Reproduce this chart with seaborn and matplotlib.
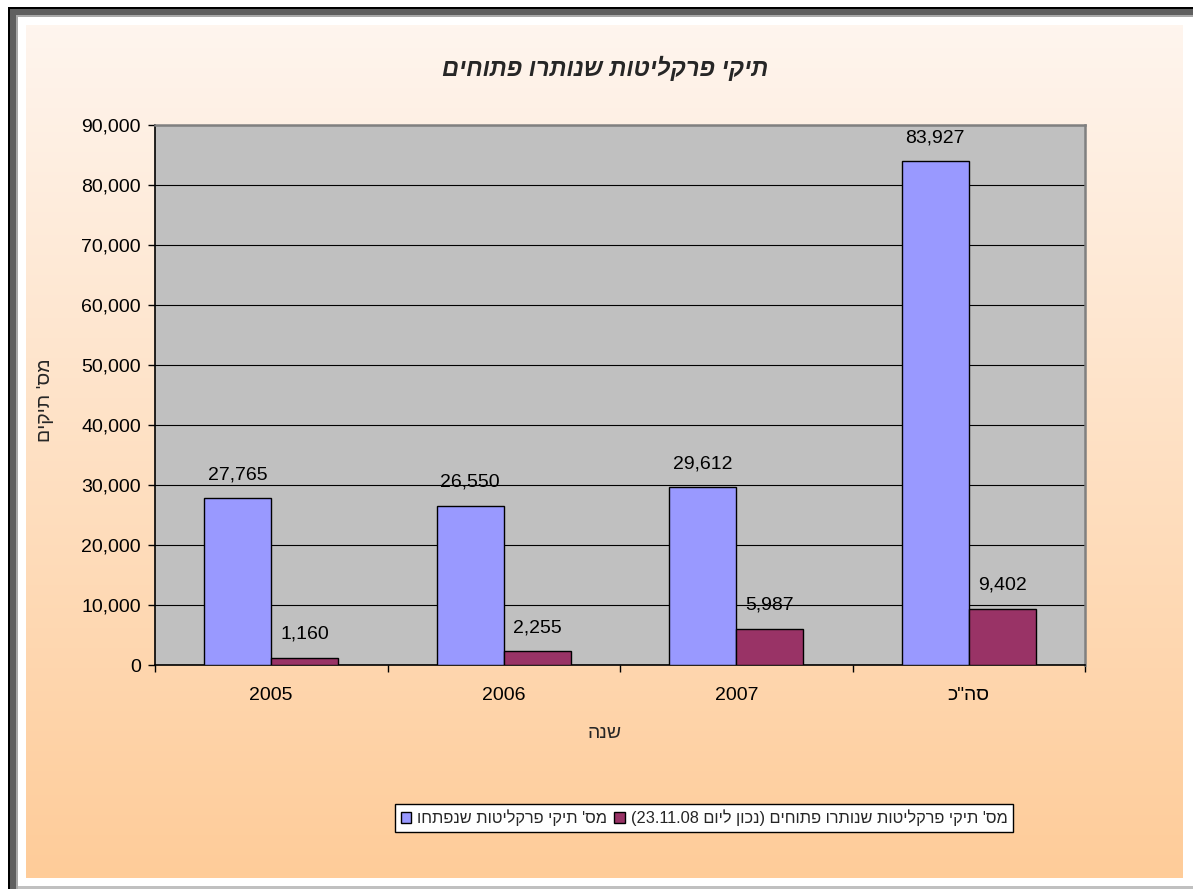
import re
import numpy as np
import pandas as pd
import matplotlib
matplotlib.use("Agg")
import matplotlib.pyplot as plt
from matplotlib.patches import Rectangle, Patch
from matplotlib.ticker import FuncFormatter, FixedLocator, NullFormatter
import seaborn as sns

# ---- data ----
categories = ['2005', '2006', '2007', 'סה"כ']
opened = [27765, 26550, 29612, 83927]
remaining = [1160, 2255, 5987, 9402]
series_names = ["מס' תיקי פרקליטות שנפתחו",
                "מס' תיקי פרקליטות שנותרו פתוחים (נכון ליום 23.11.08)"]
title_text = "תיקי פרקליטות שנותרו פתוחים"
xlabel_text = "שנה"
ylabel_text = "מס' תיקים"
colors = ["#9999FF", "#993366"]


def rtl(s):
    """Convert logical-order Hebrew text to visual order for matplotlib."""
    r = s[::-1]
    r = re.sub(r'[0-9][0-9.,]*[0-9]', lambda m: m.group(0)[::-1], r)
    return r.translate(str.maketrans('()', ')('))


sns.set_theme(style="white")
plt.rcParams['font.family'] = ['Liberation Sans', 'DejaVu Sans']

W, H = 1193, 889
fig = plt.figure(figsize=(W / 100, H / 100), dpi=100)
fig.patch.set_facecolor("white")


def fx(x):
    return x / W


def fy(y):
    return 1 - y / H


# frame strips
fig.add_artist(Rectangle((fx(8), 0), fx(10) - fx(8), fy(7), transform=fig.transFigure,
                         facecolor="black", edgecolor="none", zorder=-20))
fig.add_artist(Rectangle((fx(10), 0), fx(16) - fx(10), fy(9), transform=fig.transFigure,
                         facecolor="#5f5f5f", edgecolor="none", zorder=-19))
fig.add_artist(Rectangle((fx(16), 0), fx(18) - fx(16), fy(15), transform=fig.transFigure,
                         facecolor="#a8a8a8", edgecolor="none", zorder=-19))
fig.add_artist(Rectangle((fx(8), fy(9)), 1 - fx(8), fy(7) - fy(9), transform=fig.transFigure,
                         facecolor="black", edgecolor="none", zorder=-20))
fig.add_artist(Rectangle((fx(10), fy(15)), 1 - fx(10), fy(9) - fy(15), transform=fig.transFigure,
                         facecolor="#5f5f5f", edgecolor="none", zorder=-19))
fig.add_artist(Rectangle((fx(16), fy(17)), 1 - fx(16), fy(15) - fy(17), transform=fig.transFigure,
                         facecolor="#a8a8a8", edgecolor="none", zorder=-19))
fig.add_artist(Rectangle((fx(18), 0), 1 - fx(18), fy(886), transform=fig.transFigure,
                         facecolor="#c0c0c0", edgecolor="none", zorder=-19))

# gradient background of chart area
bg = fig.add_axes([fx(26), fy(878), fx(1183) - fx(26), fy(25) - fy(878)], zorder=-5)
top = np.array([0xFE, 0xF5, 0xEE]) / 255
bot = np.array([0xFF, 0xCC, 0x99]) / 255
t = np.linspace(0, 1, 256)[:, None]
grad = (top[None, :] * (1 - t) + bot[None, :] * t)[:, None, :]
bg.imshow(grad, aspect="auto", extent=[0, 1, 0, 1])
bg.axis("off")

# main axes
ax = fig.add_axes([fx(155), fy(665), fx(1085) - fx(155), fy(125) - fy(665)], zorder=1)
ax.set_facecolor("#C0C0C0")

cat_vis = [rtl(c) for c in categories]
ser_vis = [rtl(s) for s in series_names]
df = pd.DataFrame({
    "cat": cat_vis * 2,
    "series": [ser_vis[0]] * len(categories) + [ser_vis[1]] * len(categories),
    "val": opened + remaining,
})

sns.barplot(data=df, x="cat", y="val", hue="series", order=cat_vis, hue_order=ser_vis,
            palette=colors, width=0.576, gap=0, edgecolor="black", linewidth=1,
            saturation=1, legend=False, ax=ax, zorder=3)

for cont in ax.containers:
    ax.bar_label(cont, fmt="{:,.0f}", padding=11, fontsize=14, color="black")

ax.set_ylim(0, 90000)
ax.set_xlim(-0.5, len(categories) - 0.5)
ax.yaxis.set_major_locator(FixedLocator(np.arange(0, 90001, 10000)))
ax.yaxis.set_major_formatter(FuncFormatter(lambda v, p: f"{int(v):,}"))
ax.grid(axis="y", color="black", linewidth=0.8, zorder=0)
ax.set_axisbelow(True)

ax.xaxis.set_minor_locator(FixedLocator(np.arange(-0.5, len(categories), 1.0)))
ax.xaxis.set_minor_formatter(NullFormatter())
ax.tick_params(axis="x", which="major", length=0, pad=16, labelsize=14, colors="black")
ax.tick_params(axis="x", which="minor", length=5, width=1, direction="out", colors="black",
               bottom=True)
ax.tick_params(axis="y", which="major", length=5, width=1, direction="out", pad=5,
               labelsize=14, colors="black", left=True)

for side in ["left", "bottom"]:
    ax.spines[side].set_color("black")
    ax.spines[side].set_linewidth(1.2)
for side in ["top", "right"]:
    ax.spines[side].set_color("#808080")
    ax.spines[side].set_linewidth(1.8)

ax.set_xlabel("")
ax.set_ylabel("")
fig.text(fx(605), fy(733), rtl(xlabel_text), ha="center", va="center", fontsize=14)
fig.text(fx(45), fy(400), rtl(ylabel_text), ha="center", va="center", fontsize=14,
         rotation=90)
fig.text(fx(605), fy(68), rtl(title_text), ha="center", va="center", fontsize=17,
         fontweight="bold", fontstyle="italic")

handles = [Patch(facecolor=c, edgecolor="black", linewidth=1) for c in colors]
leg = fig.legend(handles, ser_vis, loc="center", bbox_to_anchor=(fx(704), fy(818)),
                 ncol=2, fontsize=11.8, frameon=True, fancybox=False, edgecolor="black",
                 facecolor="white", framealpha=1, handlelength=0.65, handleheight=0.65,
                 handletextpad=0.35, columnspacing=0.45, borderpad=0.35, borderaxespad=0)
leg.get_frame().set_linewidth(1)

fig.savefig("out.png", dpi=100)
